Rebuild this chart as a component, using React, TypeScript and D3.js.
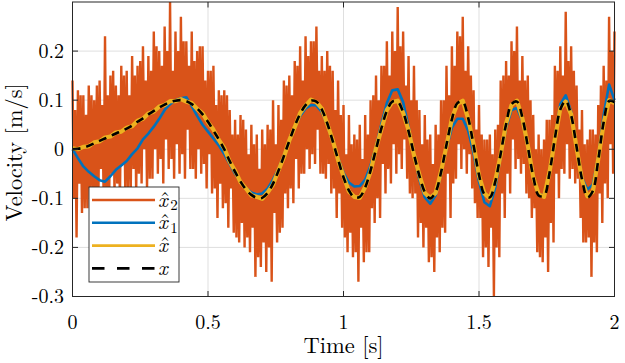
import React from 'react'
import * as d3 from 'd3'

// sampled signals, velocity in m/s
const fineStep = 0.005  // x_hat_2 sampling [s]
const coarseStep = 0.02 // the other series [s]

const timeTicks = [0, 0.5, 1, 1.5, 2]
const velTicks = [-0.3, -0.2, -0.1, 0, 0.1, 0.2]

// x_hat_2 : noisy estimate (4 samples per 0.02 s)
const xHat2 = [
  0.14, -0.10, 0.08, -0.18, 0.12, -0.07, 0.11, -0.13, 0.11, -0.12, 0.07, -0.12,
  0.13, -0.08, 0.11, -0.11, 0.10, -0.10, 0.13, -0.13, 0.14, -0.04, 0.09, -0.10,
  0.23, -0.11, 0.11, -0.12, 0.15, -0.05, 0.16, -0.09, 0.13, -0.07, 0.11, -0.11,
  0.17, -0.03, 0.15, -0.10, 0.16, -0.08, 0.11, -0.08, 0.19, -0.04, 0.15, -0.09,
  0.17, -0.05, 0.18, -0.07, 0.21, 0.00, 0.14, -0.08, 0.19, -0.06, 0.16, -0.06,
  0.24, 0.00, 0.21, -0.05, 0.20, -0.02, 0.17, -0.07, 0.25, 0.02, 0.20, -0.04,
  0.30, -0.02, 0.16, -0.06, 0.24, 0.01, 0.20, -0.05, 0.27, -0.01, 0.22, -0.06,
  0.22, 0.04, 0.17, -0.04, 0.24, -0.04, 0.18, -0.06, 0.20, 0.00, 0.21, -0.05,
  0.21, -0.03, 0.14, -0.08, 0.16, -0.01, 0.16, -0.09, 0.17, -0.08, 0.09, -0.14,
  0.12, -0.07, 0.11, -0.12, 0.12, -0.11, 0.11, -0.16, 0.08, -0.08, 0.03, -0.17,
  0.06, -0.18, 0.03, -0.19, 0.07, -0.15, 0.06, -0.20, 0.04, -0.18, -0.01, -0.21,
  0.05, -0.16, 0.01, -0.26, 0.03, -0.22, -0.04, -0.24, 0.04, -0.19, 0.01, -0.25,
  0.05, -0.20, 0.04, -0.27, 0.10, -0.13, 0.01, -0.19, 0.09, -0.17, 0.06, -0.16,
  0.14, -0.09, 0.13, -0.12, 0.15, -0.08, 0.11, -0.11, 0.18, -0.02, 0.17, -0.08,
  0.21, -0.05, 0.14, -0.05, 0.23, 0.00, 0.19, -0.04, 0.22, -0.01, 0.22, -0.03,
  0.25, 0.04, 0.16, -0.05, 0.19, -0.05, 0.16, -0.06, 0.20, -0.03, 0.17, -0.09,
  0.16, -0.08, 0.08, -0.14, 0.14, -0.09, 0.07, -0.16, 0.09, -0.18, -0.01, -0.21,
  0.07, -0.17, 0.01, -0.22, 0.03, -0.21, 0.02, -0.27, 0.05, -0.16, -0.02, -0.23,
  0.07, -0.21, 0.03, -0.21, 0.10, -0.12, 0.11, -0.15, 0.15, -0.10, 0.10, -0.14,
  0.17, -0.03, 0.17, -0.09, 0.22, -0.04, 0.15, -0.07, 0.24, 0.01, 0.20, -0.05,
  0.29, -0.01, 0.21, -0.04, 0.24, 0.02, 0.13, -0.06, 0.19, -0.09, 0.10, -0.10,
  0.17, -0.09, 0.10, -0.18, 0.08, -0.15, 0.01, -0.20, 0.07, -0.16, 0.02, -0.23,
  0.03, -0.22, -0.03, -0.25, 0.05, -0.18, 0.03, -0.21, 0.10, -0.16, 0.10, -0.17,
  0.17, -0.05, 0.11, -0.14, 0.21, -0.07, 0.17, -0.06, 0.24, 0.01, 0.23, -0.04,
  0.27, 0.00, 0.16, -0.05, 0.21, -0.01, 0.15, -0.08, 0.12, -0.11, 0.04, -0.14,
  0.09, -0.14, 0.03, -0.22, 0.02, -0.20, 0.02, -0.24, 0.03, -0.16, -0.01, -0.30,
  0.04, -0.20, 0.05, -0.22, 0.14, -0.09, 0.15, -0.14, 0.18, -0.05, 0.15, -0.09,
  0.22, 0.02, 0.20, -0.04, 0.25, -0.02, 0.14, -0.05, 0.19, -0.03, 0.14, -0.09,
  0.15, -0.10, 0.10, -0.14, 0.07, -0.12, 0.00, -0.21, 0.03, -0.22, 0.00, -0.23,
  0.02, -0.18, 0.06, -0.25, 0.06, -0.15, 0.07, -0.19, 0.17, -0.05, 0.16, -0.10,
  0.21, -0.04, 0.15, -0.05, 0.28, 0.01, 0.18, -0.06, 0.21, -0.04, 0.16, -0.07,
  0.13, -0.06, 0.04, -0.14, 0.08, -0.19, 0.01, -0.19, 0.02, -0.18, 0.04, -0.26,
  0.04, -0.19, 0.03, -0.21, 0.09, -0.09, 0.13, -0.15, 0.17, -0.07, 0.14, -0.10,
  0.27, 0.01, 0.20, -0.05, 0.24,
]

// x_hat_1
const xHat1 = [
  0.000, -0.018, -0.035, -0.046, -0.055, -0.063, -0.066, -0.055, -0.042, -0.033,
  -0.024, -0.010, 0.002, 0.020, 0.032, 0.046, 0.062, 0.080, 0.092, 0.100,
  0.104, 0.106, 0.088, 0.068, 0.050, 0.036, 0.022, 0.008, -0.010, -0.030,
  -0.050, -0.066, -0.079, -0.088, -0.092, -0.090, -0.080, -0.062, -0.040, -0.012,
  0.016, 0.044, 0.068, 0.083, 0.090, 0.089, 0.076, 0.050, 0.016, -0.018,
  -0.048, -0.068, -0.076, -0.075, -0.062, -0.033, 0.006, 0.052, 0.094, 0.120,
  0.122, 0.096, 0.046, -0.010, -0.062, -0.098, -0.111, -0.094, -0.050, 0.002,
  0.044, 0.062, 0.062, 0.038, -0.008, -0.066, -0.108, -0.116, -0.078, -0.014,
  0.044, 0.080, 0.084, 0.058, 0.004, -0.056, -0.092, -0.094, -0.050, 0.024,
  0.092, 0.110, 0.076, 0.006, -0.058, -0.082, -0.072, -0.016, 0.070, 0.132,
  0.100,
]

// x_hat
const xHat = [
  0.002, 0.000, 0.005, 0.006, 0.014, 0.016, 0.024, 0.026, 0.034, 0.036,
  0.044, 0.047, 0.058, 0.062, 0.073, 0.077, 0.087, 0.090, 0.098, 0.098,
  0.102, 0.097, 0.094, 0.082, 0.073, 0.055, 0.040, 0.019, 0.002, -0.025,
  -0.044, -0.067, -0.080, -0.094, -0.097, -0.101, -0.088, -0.072, -0.043, -0.016,
  0.018, 0.045, 0.074, 0.089, 0.101, 0.096, 0.083, 0.052, 0.019, -0.022,
  -0.055, -0.086, -0.097, -0.099, -0.077, -0.045, 0.002, 0.041, 0.080, 0.096,
  0.099, 0.074, 0.039, -0.012, -0.052, -0.089, -0.099, -0.089, -0.045, 0.007,
  0.063, 0.092, 0.099, 0.062, 0.010, -0.054, -0.090, -0.100, -0.064, -0.011,
  0.053, 0.090, 0.099, 0.063, 0.008, -0.057, -0.092, -0.097, -0.047, 0.020,
  0.083, 0.097, 0.071, 0.003, -0.063, -0.096, -0.087, -0.020, 0.053, 0.100,
  0.094,
]

// x : reference
const xRef = [
  0.000, 0.001, 0.003, 0.007, 0.012, 0.017, 0.022, 0.027, 0.032, 0.037,
  0.042, 0.048, 0.056, 0.063, 0.071, 0.078, 0.085, 0.091, 0.096, 0.099,
  0.100, 0.098, 0.092, 0.083, 0.071, 0.056, 0.038, 0.020, 0.000, -0.024,
  -0.046, -0.066, -0.082, -0.093, -0.099, -0.099, -0.089, -0.070, -0.044, -0.014,
  0.017, 0.047, 0.072, 0.090, 0.099, 0.097, 0.081, 0.053, 0.017, -0.021,
  -0.057, -0.084, -0.098, -0.097, -0.078, -0.043, 0.000, 0.043, 0.078, 0.097,
  0.097, 0.076, 0.037, -0.010, -0.054, -0.087, -0.100, -0.087, -0.047, 0.009,
  0.061, 0.094, 0.097, 0.064, 0.008, -0.052, -0.092, -0.098, -0.066, -0.009,
  0.051, 0.092, 0.097, 0.065, 0.006, -0.055, -0.094, -0.095, -0.049, 0.022,
  0.081, 0.099, 0.069, 0.005, -0.061, -0.098, -0.085, -0.022, 0.055, 0.098,
  0.096,
]

const legendItems = [
  { key: 'x2', sub: '2', hat: true, color: '#D95319', dash: '' },
  { key: 'x1', sub: '1', hat: true, color: '#0072BD', dash: '' },
  { key: 'xh', sub: '', hat: true, color: '#EDB120', dash: '' },
  { key: 'x', sub: '', hat: false, color: '#000000', dash: '12.5,12.5' },
]

const serif = "'Latin Modern Roman'"

export default function App() {
  const left = 72.5, right = 614.5, top = 2, bottom = 296.5
  const xs = d3.scaleLinear().domain([0, 2]).range([left, right])
  const ys = d3.scaleLinear().domain([-0.3, 0.3]).range([bottom, top])

  const line = (step: number, curve: d3.CurveFactory) =>
    d3.line<number>().x((_, i) => xs(i * step)).y(d => ys(d)).curve(curve)

  const fmt = (v: number) => (Math.abs(v) < 1e-9 ? '0' : String(+v.toFixed(2)))

  return (
    <svg width={625} height={363} style={{ position: 'absolute', left: 0, top: 0, background: '#fff' }}>
      {/* grid */}
      <g stroke="#dfdfdf" strokeWidth={1}>
        {timeTicks.slice(1, -1).map(t => (
          <line key={'gx' + t} x1={xs(t)} x2={xs(t)} y1={top} y2={bottom} />
        ))}
        {velTicks.slice(1).map(v => (
          <line key={'gy' + v} x1={left} x2={right} y1={ys(v)} y2={ys(v)} />
        ))}
      </g>

      {/* data */}
      <path d={line(fineStep, d3.curveLinear)(xHat2) || ''} fill="none" stroke="#D95319" strokeWidth={2.4} />
      <path d={line(coarseStep, d3.curveLinear)(xHat1) || ''} fill="none" stroke="#0072BD" strokeWidth={2.6} strokeLinejoin="round" />
      <path d={line(coarseStep, d3.curveLinear)(xHat) || ''} fill="none" stroke="#EDB120" strokeWidth={4.2} strokeLinejoin="round" />
      <path d={line(coarseStep, d3.curveCatmullRom)(xRef) || ''} fill="none" stroke="#000" strokeWidth={2.6} strokeDasharray="8,6" />

      {/* axes box and ticks */}
      <rect x={left} y={top} width={right - left} height={bottom - top} fill="none" stroke="#262626" strokeWidth={1} />
      <g stroke="#262626" strokeWidth={1}>
        {timeTicks.map(t => (
          <g key={'tx' + t}>
            <line x1={xs(t)} x2={xs(t)} y1={bottom} y2={bottom - 5.5} />
            <line x1={xs(t)} x2={xs(t)} y1={top} y2={top + 5.5} />
          </g>
        ))}
        {velTicks.map(v => (
          <g key={'ty' + v}>
            <line x1={left} x2={left + 5.5} y1={ys(v)} y2={ys(v)} />
            <line x1={right} x2={right - 5.5} y1={ys(v)} y2={ys(v)} />
          </g>
        ))}
      </g>

      <g style={{ fontFamily: serif, fontSize: 20 }} fill="#000">
        {timeTicks.map(t => (
          <text key={'lx' + t} x={xs(t)} y={329} textAnchor="middle">{fmt(t)}</text>
        ))}
        {velTicks.map(v => (
          <text key={'ly' + v} x={64} y={ys(v) + 6.5} textAnchor="end">{fmt(v)}</text>
        ))}
      </g>

      <text x={(left + right) / 2} y={353} textAnchor="middle" style={{ fontFamily: serif, fontSize: 22.5 }}>Time [s]</text>
      <text transform={`translate(21.5,${(top + bottom) / 2 + 3}) rotate(-90)`} textAnchor="middle" style={{ fontFamily: serif, fontSize: 22.5 }}>Velocity [m/s]</text>

      {/* legend */}
      <g>
        <rect x={89} y={187} width={90} height={95} fill="#fff" stroke="#262626" strokeWidth={0.9} />
        {legendItems.map((it, i) => {
          const ly = 200 + i * 22.8
          return (
            <g key={it.key}>
              <line x1={92} x2={155} y1={ly} y2={ly} stroke={it.color} strokeWidth={2.6} strokeDasharray={it.dash || undefined} />
              <text x={158} y={ly + 6.5} style={{ fontFamily: serif, fontSize: 21 }}>
                <tspan fontStyle="italic">x</tspan>
                {it.hat && <tspan dx={-8}>ˆ</tspan>}
                {it.sub && <tspan dx={0} dy={3.5} style={{ fontSize: 15 }}>{it.sub}</tspan>}
              </text>
            </g>
          )
        })}
      </g>
    </svg>
  )
}
